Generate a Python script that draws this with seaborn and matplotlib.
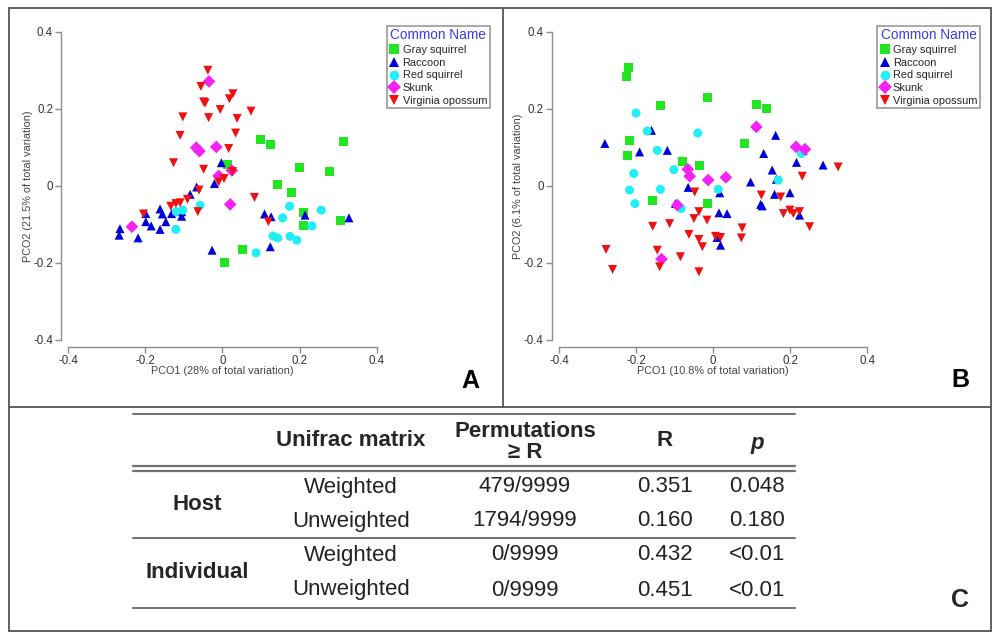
import numpy as np
import pandas as pd
import matplotlib.pyplot as plt
import seaborn as sns
from matplotlib.lines import Line2D

sns.set_theme(style="white")
plt.rcParams['font.family'] = ['Liberation Sans', 'DejaVu Sans']

# --- data ---
species = ["Gray squirrel", "Raccoon", "Red squirrel", "Skunk", "Virginia opossum"]
palette = {"Gray squirrel": "#22e622", "Raccoon": "#0000dd", "Red squirrel": "#22eef5",
           "Skunk": "#f522f5", "Virginia opossum": "#f01010"}
markers = {"Gray squirrel": "s", "Raccoon": "^", "Red squirrel": "o",
           "Skunk": "D", "Virginia opossum": "v"}

# panel A (weighted)
a_gray_x = [0.098, 0.124, 0.313, 0.199, 0.277, 0.143, 0.178, 0.209, 0.209, 0.306, 0.053, 0.004, 0.012]
a_gray_y = [0.120, 0.108, 0.114, 0.047, 0.036, 0.004, -0.018, -0.069, -0.104, -0.089, -0.164, -0.199, 0.055]
a_racc_x = [-0.003, -0.021, -0.067, -0.084, -0.132, -0.106, -0.106, -0.162, -0.156, -0.147, -0.162, -0.199,
            -0.199, -0.185, -0.266, -0.268, -0.219, -0.027, 0.109, 0.126, 0.124, 0.214, 0.328]
a_racc_y = [0.060, 0.006, -0.003, -0.022, -0.072, -0.067, -0.079, -0.060, -0.073, -0.093, -0.113, -0.072,
            -0.093, -0.104, -0.111, -0.128, -0.135, -0.167, -0.073, -0.080, -0.158, -0.076, -0.083]
a_reds_x = [-0.120, -0.103, -0.058, -0.121, 0.156, 0.174, 0.256, 0.232, 0.131, 0.143, 0.175, 0.193, 0.087]
a_reds_y = [-0.067, -0.063, -0.050, -0.113, -0.083, -0.053, -0.063, -0.104, -0.130, -0.135, -0.131, -0.141, -0.174]
a_skunk_x = [-0.035, -0.068, -0.060, -0.016, -0.010, 0.020, -0.235, 0.024]
a_skunk_y = [0.271, 0.099, 0.090, 0.101, 0.026, -0.048, -0.106, 0.040]
a_opos_x = [-0.038, -0.056, -0.049, -0.045, 0.027, 0.018, -0.103, -0.036, -0.006, 0.074, 0.038, 0.034, -0.110,
            0.016, -0.127, -0.049, 0.026, 0.004, -0.010, -0.061, -0.091, -0.110, -0.121, -0.134, -0.205,
            -0.064, 0.083, 0.119]
a_opos_y = [0.300, 0.258, 0.218, 0.215, 0.239, 0.226, 0.179, 0.177, 0.198, 0.194, 0.175, 0.137, 0.131,
            0.097, 0.060, 0.043, 0.037, 0.019, 0.010, -0.011, -0.035, -0.044, -0.046, -0.053, -0.073,
            -0.067, -0.030, -0.093]

# panel B (unweighted)
b_gray_x = [-0.219, -0.226, -0.137, -0.014, 0.112, 0.137, -0.216, -0.223, 0.082, -0.079, -0.035, -0.157, -0.016]
b_gray_y = [0.307, 0.283, 0.209, 0.229, 0.212, 0.200, 0.118, 0.078, 0.110, 0.062, 0.054, -0.037, -0.046]
b_racc_x = [-0.281, -0.160, -0.191, -0.119, -0.065, -0.098, 0.017, 0.015, 0.036, 0.010, 0.019, 0.097,
            0.131, 0.162, 0.153, 0.164, 0.159, 0.123, 0.127, 0.199, 0.216, 0.233, 0.224, 0.285]
b_racc_y = [0.110, 0.144, 0.088, 0.092, -0.004, -0.046, -0.018, -0.070, -0.072, -0.134, -0.154, 0.010,
            0.084, 0.131, 0.041, 0.017, -0.022, -0.048, -0.052, -0.018, 0.061, 0.092, -0.076, 0.054]
b_reds_x = [-0.200, -0.171, -0.145, -0.040, -0.206, -0.217, -0.203, -0.137, -0.102, -0.083, 0.013, 0.169, 0.229]
b_reds_y = [0.189, 0.142, 0.092, 0.137, 0.032, -0.011, -0.046, -0.009, 0.042, -0.059, -0.009, 0.015, 0.084]
b_skunk_x = [0.112, 0.215, 0.238, -0.066, -0.061, -0.013, 0.033, -0.093, -0.134]
b_skunk_y = [0.153, 0.101, 0.095, 0.043, 0.025, 0.015, 0.022, -0.050, -0.190]
b_opos_x = [-0.048, -0.037, -0.050, -0.016, -0.157, -0.113, -0.063, -0.037, -0.028, 0.006, 0.019, 0.073,
            0.075, -0.145, -0.139, -0.085, -0.037, -0.278, -0.261, 0.125, 0.175, 0.182, 0.199, 0.208,
            0.224, 0.231, 0.250, 0.324]
b_opos_y = [-0.016, -0.067, -0.085, -0.089, -0.105, -0.098, -0.126, -0.139, -0.158, -0.131, -0.134, -0.135,
            -0.109, -0.167, -0.210, -0.184, -0.223, -0.165, -0.217, -0.024, -0.029, -0.072, -0.063, -0.072,
            -0.067, 0.025, -0.106, 0.049]

# table C
tbl_header = ["Unifrac matrix", "Permutations\n\u2265 R", "R", "p"]
tbl_groups = ["Host", "Individual"]
tbl_matrix = ["Weighted", "Unweighted", "Weighted", "Unweighted"]
tbl_perm = ["479/9999", "1794/9999", "0/9999", "0/9999"]
tbl_r = ["0.351", "0.160", "0.432", "0.451"]
tbl_p = ["0.048", "0.180", "<0.01", "<0.01"]


def make_df(xs, ys):
    rows = []
    for sp, x, y in zip(species, xs, ys):
        rows.append(pd.DataFrame({"x": x, "y": y, "species": sp}))
    return pd.concat(rows, ignore_index=True)


df_a = make_df([a_gray_x, a_racc_x, a_reds_x, a_skunk_x, a_opos_x],
               [a_gray_y, a_racc_y, a_reds_y, a_skunk_y, a_opos_y])
df_b = make_df([b_gray_x, b_racc_x, b_reds_x, b_skunk_x, b_opos_x],
               [b_gray_y, b_racc_y, b_reds_y, b_skunk_y, b_opos_y])

W, H = 1000, 638
fig = plt.figure(figsize=(10, 6.38), dpi=100)


def fx(px):
    return px / W


def fy(py):
    return 1 - py / H


def pcoa_panel(df, left_px, ylab_px, xlab, ylab, leg_px, letter_px, letter):
    ax = fig.add_axes([fx(left_px), fy(340), 308.4 / W, 308.3 / H])
    sns.scatterplot(data=df, x="x", y="y", hue="species", style="species",
                    palette=palette, markers=markers, s=42, linewidth=0,
                    legend=False, ax=ax)
    ticks = [-0.4, -0.2, 0, 0.2, 0.4]
    ax.set_xlim(-0.4, 0.4)
    ax.set_ylim(-0.4, 0.4)
    ax.set_xticks(ticks)
    ax.set_yticks(ticks)
    ax.set_xticklabels(["-0.4", "-0.2", "0", "0.2", "0.4"])
    ax.set_yticklabels(["-0.4", "-0.2", "0", "0.2", "0.4"])
    sns.despine(ax=ax, offset=5)
    for side in ["left", "bottom"]:
        ax.spines[side].set_color("#8c8c8c")
        ax.spines[side].set_linewidth(1)
    ax.tick_params(direction="out", length=4, width=1, color="#8c8c8c",
                   labelsize=8.3, labelcolor="#333333", pad=2,
                   left=True, bottom=True)
    ax.set_xlabel(xlab, fontsize=7.8, color="#444444")
    ax.set_ylabel(ylab, fontsize=7.8, color="#444444")
    ax.xaxis.set_label_coords(0.5, -0.083)
    ax.yaxis.set_label_coords((ylab_px - left_px) / 308.4, 0.5)
    handles = [Line2D([], [], marker=markers[sp], color=palette[sp], linestyle="",
                      markersize=7, markeredgewidth=0) for sp in species]
    leg = ax.legend(handles, species, title="Common Name", loc="upper left",
                    bbox_to_anchor=(fx(leg_px[0]), fy(leg_px[1])),
                    bbox_transform=fig.transFigure, frameon=True, fancybox=False,
                    edgecolor="#9a9a9a", framealpha=1, fontsize=7.9, title_fontsize=9.8,
                    borderpad=0.25, labelspacing=0.24, handletextpad=0.3,
                    handlelength=0.9, borderaxespad=0)
    leg.get_title().set_color("#3b3bf0")
    leg.get_frame().set_linewidth(1.2)
    fig.text(fx(letter_px[0]), fy(letter_px[1]), letter, fontsize=18, fontweight="bold",
             ha="center", va="center", color="black")
    return ax


pcoa_panel(df_a, 68.3, 33, "PCO1 (28% of total variation)", "PCO2 (21.5% of total variation)",
           (386.7, 25.7), (470, 381), "A")
pcoa_panel(df_b, 559.0, 523, "PCO1 (10.8% of total variation)", "PCO2 (6.1% of total variation)",
           (877, 25.7), (960, 380), "B")


# frame lines
def hline(y, x0, x1, color="#555555", lw=1.3):
    fig.add_artist(Line2D([fx(x0), fx(x1)], [fy(y), fy(y)], transform=fig.transFigure,
                          color=color, lw=lw))


def vline(x, y0, y1, color="#555555", lw=1.3):
    fig.add_artist(Line2D([fx(x), fx(x)], [fy(y0), fy(y1)], transform=fig.transFigure,
                          color=color, lw=lw))


hline(7.5, 8.5, 991)
hline(630.5, 8.5, 991)
vline(8.5, 7.5, 630.5)
vline(991, 7.5, 630.5)
vline(502.7, 7.5, 406.7)
hline(406.7, 8.5, 991)

# table C
tx0, tx1 = 133, 795
hline(414, tx0, tx1, color="#707070", lw=1.4)
hline(466, tx0, tx1, color="#707070", lw=1.6)
hline(470.5, tx0, tx1, color="#707070", lw=1.6)
hline(538, tx0, tx1, color="#707070", lw=1.4)
hline(608, tx0, tx1, color="#707070", lw=1.4)

tsize = 16
col_x = [351, 525, 665, 757]
fig.text(fx(col_x[0]), fy(441), tbl_header[0], fontsize=tsize, fontweight="bold",
         ha="center", va="center")
fig.text(fx(col_x[1]), fy(442), tbl_header[1], fontsize=tsize, fontweight="bold",
         ha="center", va="center", linespacing=1.05)
fig.text(fx(col_x[2]), fy(441), tbl_header[2], fontsize=tsize, fontweight="bold",
         ha="center", va="center")
fig.text(fx(col_x[3]), fy(443), tbl_header[3], fontsize=tsize, fontweight="bold",
         style="italic", ha="center", va="center")

row_y = [487, 521, 555, 590]
for gname, gy in zip(tbl_groups, [504, 573]):
    fig.text(fx(197), fy(gy), gname, fontsize=tsize, fontweight="bold",
             ha="center", va="center")
for i, ry in enumerate(row_y):
    for cx, vals in zip(col_x, [tbl_matrix, tbl_perm, tbl_r, tbl_p]):
        fig.text(fx(cx), fy(ry), vals[i], fontsize=tsize,
                 ha="center", va="center", color="#222222")

fig.text(fx(960), fy(600), "C", fontsize=18, fontweight="bold", ha="center", va="center")

fig.savefig("out.png", dpi=100, facecolor="white")
